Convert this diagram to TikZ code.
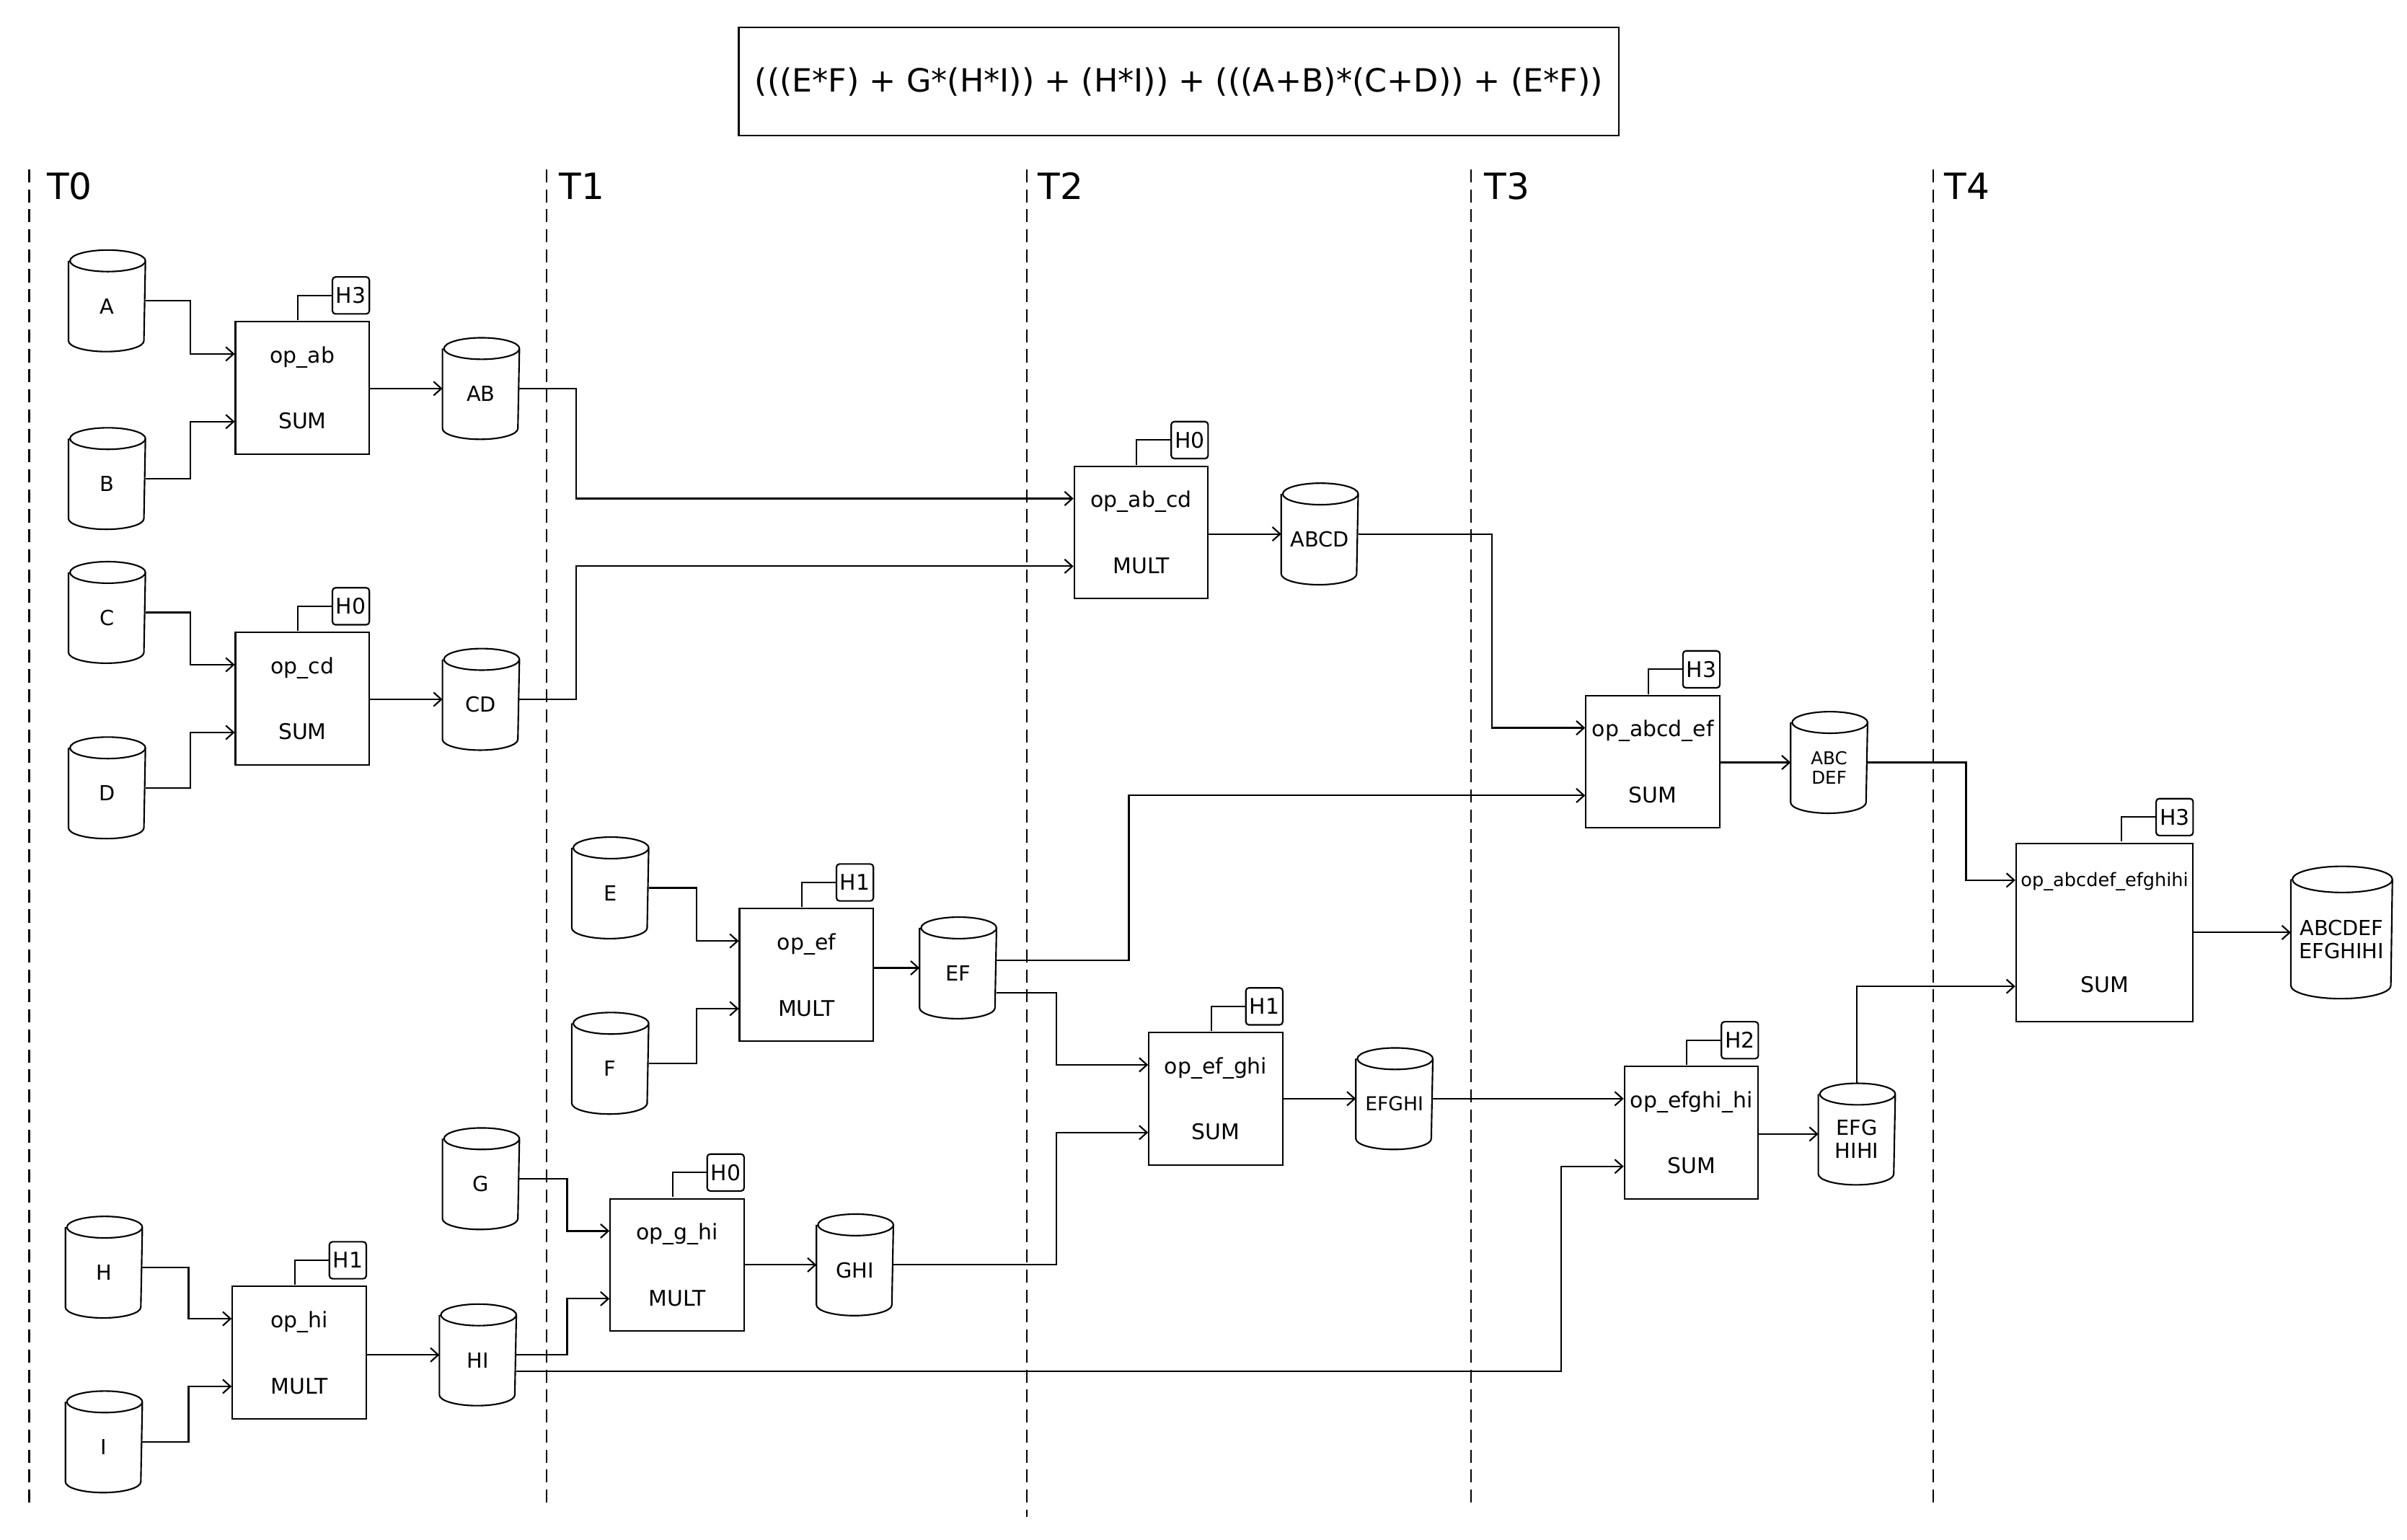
\documentclass[tikz,border=0pt]{standalone}
\usepackage{fontspec}
\setmainfont{DejaVu Sans}
\usetikzlibrary{arrows.meta}
\begin{document}
\begin{tikzpicture}[x=1pt,y=1pt,line width=1pt]
	\tikzstyle{every node}+=[inner sep=0pt]
	\tikzstyle{data}=[rectangle, minimum width=49pt, minimum height=65pt, align=center, text height=16.8pt, font=\fontsize{13.5}{15}\selectfont]
	\tikzstyle{opbox}=[draw, rectangle, minimum width=87pt, minimum height=86pt, align=center, font=\fontsize{14}{15}\selectfont]
	\tikzstyle{host}=[draw, rectangle, rounded corners=2pt, minimum size=24pt, font=\fontsize{14}{16}\selectfont]
	\tikzstyle{flow}=[-{Straight Barb[length=5pt,width=9pt]}]
	\useasboundingbox (0,0) rectangle (1564,-1000.8);
	% expression
	\node [draw, minimum width=572pt, minimum height=70pt, font=\fontsize{20.8}{23}\selectfont] (expr) at (766,-53) {(((E*F) + G*(H*I)) + (H*I)) + (((A+B)*(C+D)) + (E*F))};
	% time steps
	\foreach \x/\t/\e/\d in {19/T0/977/11, 355/T1/977/8, 667/T2/986/7, 956/T3/977/8, 1256/T4/977/7} {
		\draw [dash pattern=on 8.5pt off 4.5pt] (\x,-110) -- (\x,-\e);
		\node [anchor=west, font=\fontsize{23.5}{25}\selectfont] (\t) at (\x+\d,-121) {\t};
	}
	% data
	\node [data] (A) at (69.5,-195.5) {A};
	\node [data] (B) at (69.5,-311) {B};
	\node [data] (C) at (69.5,-398) {C};
	\node [data] (D) at (69.5,-512) {D};
	\node [data] (H) at (67.5,-823.5) {H};
	\node [data] (I) at (67.5,-937) {I};
	\node [data] (AB) at (312.5,-252.5) {AB};
	\node [data] (CD) at (312.5,-454.5) {CD};
	\node [data] (E) at (396.5,-577) {E};
	\node [data] (F) at (396.5,-691) {F};
	\node [data] (G) at (312.5,-766) {G};
	\node [data] (HI) at (310.5,-880.5) {HI};
	\node [data] (EF) at (622.5,-629) {EF};
	\node [data] (GHI) at (555.5,-822) {GHI};
	\node [data] (ABCD) at (857.5,-347) {ABCD};
	\node [data, font=\fontsize{12.5}{14}\selectfont, text height=15.8pt] (EFGHI) at (906,-714) {EFGHI};
	\node [data, font=\fontsize{11.5}{13}\selectfont, text height=28.4pt] (ABCDEF) at (1188.5,-495.5) {ABC\\DEF};
	\node [data, text height=31.8pt] (EFGHIHI) at (1206.5,-737) {EFG\\HIHI};
	\node [data, minimum width=65pt, minimum height=85pt, text height=33.8pt] (OUT) at (1521.5,-606) {ABCDEF\\EFGHIHI};
	\foreach \n/\r/\e in {A/24.5/7, B/24.5/7, C/24.5/7, D/24.5/7, H/24.5/7, I/24.5/7, AB/24.5/7, CD/24.5/7, E/24.5/7, F/24.5/7, G/24.5/7, HI/24.5/7, EF/24.5/7, GHI/24.5/7, ABCD/24.5/7, EFGHI/24.5/7, ABCDEF/24.5/7, EFGHIHI/24.5/7, OUT/32.5/8.5}
		\draw ([yshift=-\e pt]\n.north west) -- ([yshift=\e pt]\n.south west)
			arc [start angle=180, end angle=360, x radius=\r, y radius=\e]
			-- ([yshift=-\e pt]\n.north east)
			arc [start angle=0, end angle=360, x radius=\r, y radius=\e];
	% operations
	\node [opbox] (opAB) at (196.5,-252) {op\_ab\\[28pt]SUM};
	\node [opbox] (opCD) at (196.5,-454) {op\_cd\\[28pt]SUM};
	\node [opbox] (opHI) at (194.5,-879) {op\_hi\\[28pt]MULT};
	\node [opbox] (opEF) at (524,-633.5) {op\_ef\\[28pt]MULT};
	\node [opbox] (opGHI) at (440,-822) {op\_g\_hi\\[28pt]MULT};
	\node [opbox] (opABCD) at (741.5,-346) {op\_ab\_cd\\[28pt]MULT};
	\node [opbox] (opEFGHI) at (790,-714) {op\_ef\_ghi\\[28pt]SUM};
	\node [opbox] (opABCDEF) at (1074,-495) {op\_abcd\_ef\\[28pt]SUM};
	\node [opbox] (opEFGHIHI) at (1099,-736) {op\_efghi\_hi\\[28pt]SUM};
	\node [opbox, minimum width=115pt, minimum height=116pt] (opOUT) at (1367.5,-606) {{\fontsize{12}{13}\selectfont op\_abcdef\_efghihi}\\[54pt]SUM};
	% hosts
	\foreach \o/\h in {opAB/H3, opCD/H0, opHI/H1, opEF/H1, opGHI/H0, opABCD/H0, opEFGHI/H1, opABCDEF/H3, opEFGHIHI/H2, opOUT/H3} {
		\node [host, anchor=south east] (\o-h) at ([yshift=4pt]\o.north east) {\h};
		\draw (\o-h.west) -- ++(-22,0) -- ++(0,-16);
	}
	% flows
	\draw [flow] (A.east) -- ++(29,0) |- ([yshift=22pt]opAB.west);
	\draw [flow] (B.east) -- ++(29,0) |- ([yshift=-22pt]opAB.west);
	\draw [flow] (C.east) -- ++(29,0) |- ([yshift=22pt]opCD.west);
	\draw [flow] (D.east) -- ++(29,0) |- ([yshift=-22pt]opCD.west);
	\draw [flow] (H.east) -- ++(30,0) |- ([yshift=22pt]opHI.west);
	\draw [flow] (I.east) -- ++(30,0) |- ([yshift=-22pt]opHI.west);
	\draw [flow] (E.east) -- ++(31,0) |- ([yshift=22pt]opEF.west);
	\draw [flow] (F.east) -- ++(31,0) |- ([yshift=-22pt]opEF.west);
	\draw [flow] (G.east) -- ++(31,0) |- ([yshift=22pt]opGHI.west);
	\draw [flow] (HI.east) -- ++(33,0) |- ([yshift=-22pt]opGHI.west);
	\draw [flow] (AB.east) -- ++(37,0) |- ([yshift=22pt]opABCD.west);
	\draw [flow] (CD.east) -- ++(37,0) |- ([yshift=-22pt]opABCD.west);
	\draw [flow] (ABCD.east) -- ++(87,0) |- ([yshift=22pt]opABCDEF.west);
	\draw [flow] ([yshift=5pt]EF.east) -- ++(86,0) |- ([yshift=-22pt]opABCDEF.west);
	\draw [flow] ([yshift=-16pt]EF.east) -- ++(39,0) |- ([yshift=22pt]opEFGHI.west);
	\draw [flow] (GHI.east) -- ++(106,0) |- ([yshift=-22pt]opEFGHI.west);
	\draw [flow] (EFGHI.east) -- ([yshift=22pt]opEFGHIHI.west);
	\draw [flow] ([yshift=-10.5pt]HI.east) -- ++(679,0) |- ([yshift=-22pt]opEFGHIHI.west);
	\draw [flow] (ABCDEF.east) -- ++(64,0) |- ([yshift=34pt]opOUT.west);
	\draw [flow] (EFGHIHI.north) |- ([yshift=-35pt]opOUT.west);
	\foreach \o/\d in {opAB/AB, opCD/CD, opHI/HI, opEF/EF, opGHI/GHI, opABCD/ABCD, opEFGHI/EFGHI, opABCDEF/ABCDEF, opEFGHIHI/EFGHIHI, opOUT/OUT}
		\draw [flow] (\o.east |- \d) -- (\d.west);
\end{tikzpicture}
\end{document}
